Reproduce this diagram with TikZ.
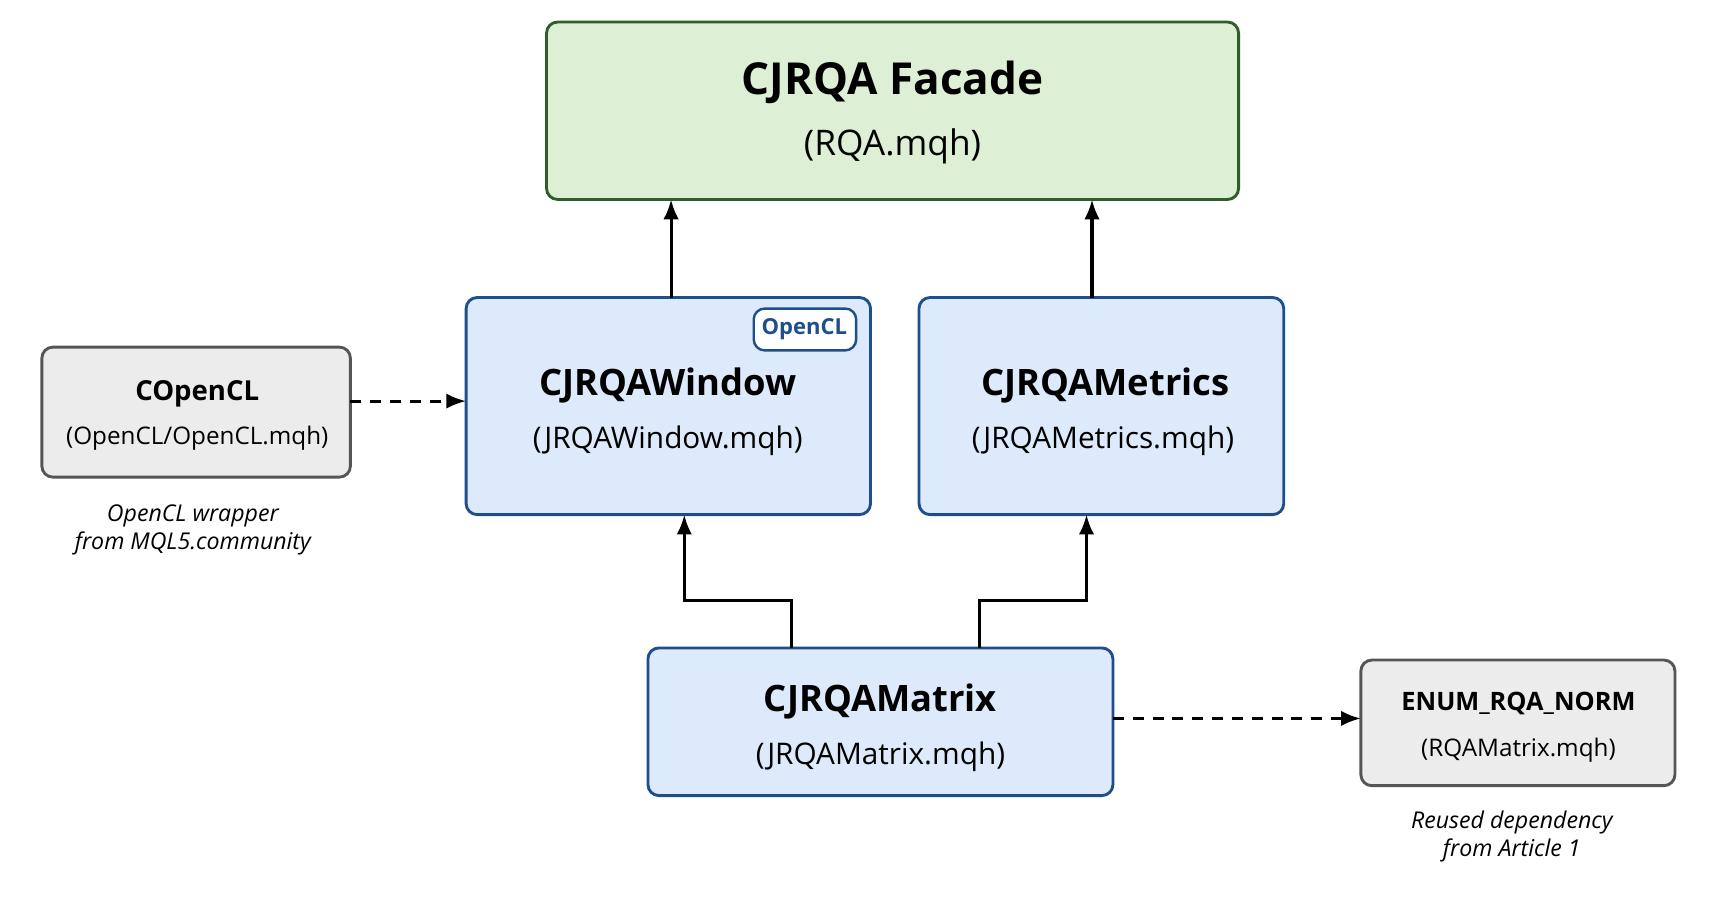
\documentclass[tikz,border=0pt]{standalone}
\usepackage{fontspec}
\setmainfont{Open Sans}
\usetikzlibrary{arrows.meta}
\definecolor{gfill}{HTML}{DDF0D6}\definecolor{gline}{HTML}{2F5E2A}
\definecolor{bfill}{HTML}{DDEAFB}\definecolor{bline}{HTML}{1F4E8C}
\definecolor{kfill}{HTML}{ECECEC}\definecolor{kline}{HTML}{555555}
\begin{document}
\begin{tikzpicture}[x=0.5pt,y=-0.5pt,
 box/.style={draw,line width=1.3pt,rounded corners=5pt},
 arr/.style={-{Latex[length=9pt,width=7pt]},line width=1.4pt},
 dasharr/.style={arr,dash pattern=on 5pt off 4pt},
 note/.style={font=\itshape\fontsize{10.5}{12.5}\selectfont,align=center}]
\useasboundingbox[fill=white] (0,0) rectangle (1560,830);
\draw[box,fill=gfill,draw=gline] (496,20) rectangle (1124,181);
\node (facT) at (810,75) {\bfseries\fontsize{20}{24}\selectfont CJRQA Facade};
\node (facS) at (810,133) {\fontsize{16}{20}\selectfont (RQA.mqh)};
\draw[box,fill=bfill,draw=bline] (423,270) rectangle (790,467);
\node (winT) at (606,350) {\bfseries\fontsize{16.5}{20}\selectfont CJRQAWindow};
\node (winS) at (606,400) {\fontsize{13.5}{17}\selectfont (JRQAWindow.mqh)};
\draw[box,fill=white,draw=bline,line width=1.1pt] (684,280) rectangle (777,318);
\node[text=bline] (badge) at (730,299) {\bfseries\fontsize{10}{12}\selectfont OpenCL};
\draw[box,fill=bfill,draw=bline] (834,270) rectangle (1165,467);
\node (metT) at (1003,350) {\bfseries\fontsize{16.5}{20}\selectfont CJRQAMetrics};
\node (metS) at (1001,400) {\fontsize{13.5}{17}\selectfont (JRQAMetrics.mqh)};
\draw[box,fill=kfill,draw=kline] (38,315) rectangle (318,433);
\node (oclT) at (179,357) {\bfseries\fontsize{12.5}{16}\selectfont COpenCL};
\node (oclS) at (179,398) {\fontsize{11}{14}\selectfont (OpenCL/OpenCL.mqh)};
\node[note] (oclN) at (175,481) {OpenCL wrapper\\from MQL5.community};
\draw[box,fill=bfill,draw=bline] (588,588) rectangle (1010,722);
\node (matT) at (799,637) {\bfseries\fontsize{16.5}{20}\selectfont CJRQAMatrix};
\node (matS) at (799,687) {\fontsize{13.5}{17}\selectfont (JRQAMatrix.mqh)};
\draw[box,fill=kfill,draw=kline] (1235,599) rectangle (1520,713);
\node (enT) at (1378,638) {\bfseries\fontsize{11.5}{15}\selectfont ENUM\_RQA\_NORM};
\node (enS) at (1378,681) {\fontsize{11}{14}\selectfont (RQAMatrix.mqh)};
\node[note] (enN) at (1372,759) {Reused dependency\\from Article 1};
\coordinate (w1) at (609,270);\coordinate (f1) at (609,181);
\coordinate (m1) at (991,270);\coordinate (f2) at (991,181);
\coordinate (x1) at (718,588);\coordinate (w2) at (621,467);
\coordinate (x2) at (889,588);\coordinate (m2) at (986,467);
\coordinate (o1) at (318,364);\coordinate (w3) at (423,364);
\coordinate (x3) at (1010,652);\coordinate (e1) at (1235,652);
\draw[arr] (w1)--(f1); \draw[arr] (m1)--(f2);
\draw[arr] (x1)--++(0,-43)-|(w2);
\draw[arr] (x2)--++(0,-43)-|(m2);
\draw[dasharr] (o1)--(w3);
\draw[dasharr] (x3)--(e1);
\end{tikzpicture}
\end{document}
